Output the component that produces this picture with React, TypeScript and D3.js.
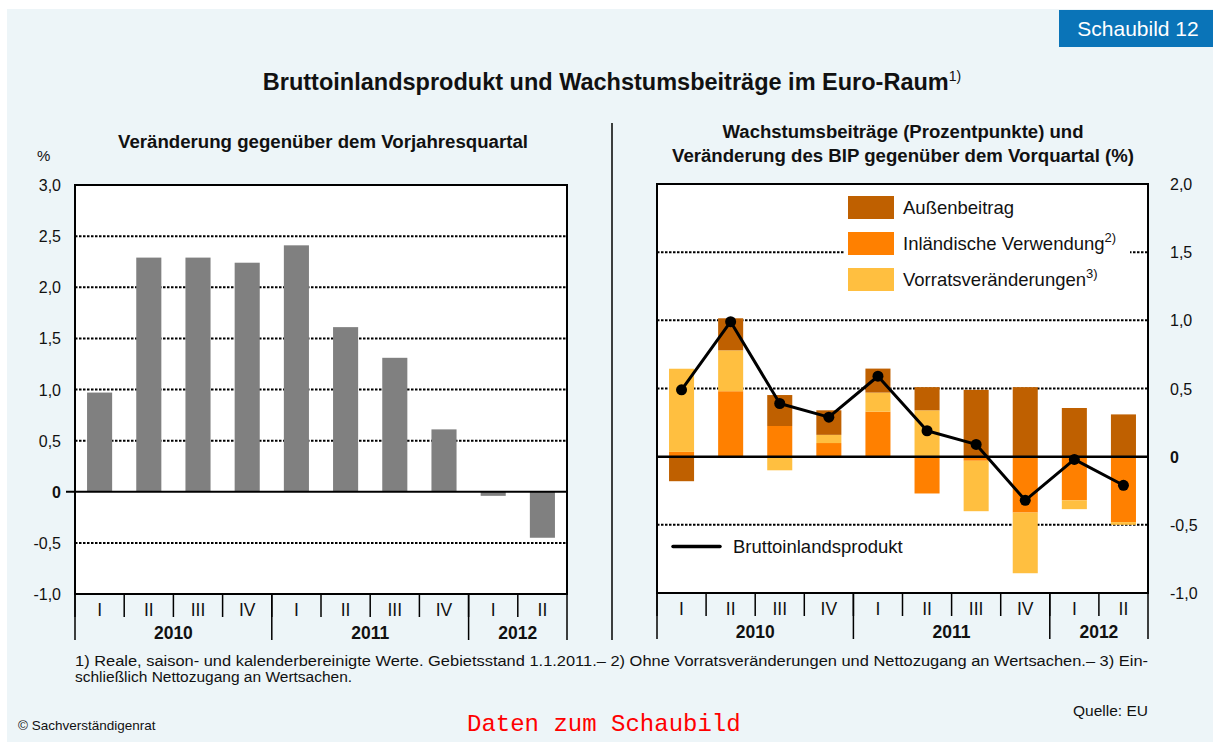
import React, { useEffect, useRef } from "react";
import * as d3 from "d3";

const quarters = ["I", "II", "III", "IV", "I", "II", "III", "IV", "I", "II"];
const yearLabels = ["2010", "2011", "2012"];
const yearSpans = [4, 4, 2];

// left panel: change vs. same quarter of previous year (%)
const yoyChange = [0.97, 2.29, 2.29, 2.24, 2.41, 1.61, 1.31, 0.61, -0.04, -0.45];

// right panel: growth contributions (pp) and GDP vs. previous quarter (%)
const inland = [0.035, 0.48, 0.225, 0.1, 0.33, -0.27, -0.03, -0.41, -0.32, -0.48];
const vorrat = [0.61, 0.3, -0.1, 0.06, 0.14, 0.34, -0.37, -0.445, -0.065, -0.02];
const aussen = [-0.18, 0.235, 0.227, 0.18, 0.176, 0.17, 0.49, 0.51, 0.357, 0.31];
const bip = [0.49, 0.99, 0.39, 0.29, 0.59, 0.19, 0.09, -0.32, -0.02, -0.21];

const leftTicks = [3, 2.5, 2, 1.5, 1, 0.5, 0, -0.5, -1];
const rightTicks = [2, 1.5, 1, 0.5, 0, -0.5, -1];

const FONT = "'Liberation Sans', Arial, sans-serif";

function fmt(v) {
  if (v === 0) return "0";
  return d3.format(".1f")(v).replace(".", ",").replace("−", "-");
}

function Chart() {
  const svgRef = useRef();
  useEffect(() => {
    document.body.style.margin = "0";
    const width = 1213;
    const height = 742;
    const svg = d3.select(svgRef.current).attr("width", width).attr("height", height);
    svg.selectAll("*").remove();

    svg.append("rect").attr("x", 7).attr("y", 9).attr("width", width - 7).attr("height", height - 9).attr("fill", "#edf5f8");

    // badge
    svg.append("rect").attr("x", 1059).attr("y", 10).attr("width", 154).attr("height", 37).attr("fill", "#0a74b8");
    svg.append("text").attr("x", 1138).attr("y", 36).attr("text-anchor", "middle").attr("fill", "#fff")
      .style("font-family", FONT).style("font-size", "21px").text("Schaubild 12");

    // main title
    const title = svg.append("text").attr("x", 612).attr("y", 90).attr("text-anchor", "middle")
      .style("font-family", FONT).style("font-size", "23.5px").style("font-weight", "bold").attr("fill", "#111");
    title.append("tspan").text("Bruttoinlandsprodukt und Wachstumsbeiträge im Euro-Raum");
    title.append("tspan").attr("dy", -9).style("font-size", "14px").style("font-weight", "normal").text("1)");

    // divider
    svg.append("line").attr("x1", 612).attr("x2", 612).attr("y1", 123).attr("y2", 640).attr("stroke", "#000").attr("stroke-width", 1.5);

    const labelStyle = (sel, size = 14) => sel.style("font-family", FONT).style("font-size", size + "px").attr("fill", "#111");

    function drawXAxis(x0, x1, y0) {
      const g = svg.append("g");
      const step = (x1 - x0) / quarters.length;
      quarters.forEach((q, i) => {
        g.append("line").attr("x1", x0 + i * step).attr("x2", x0 + i * step).attr("y1", y0).attr("y2", y0 + 23)
          .attr("stroke", "#000").attr("stroke-width", 1.5);
        g.append("text").attr("x", x0 + (i + 0.5) * step).attr("y", y0 + 22).attr("text-anchor", "middle")
          .call(labelStyle, 17.5).text(q);
      });
      let k = 0;
      yearLabels.forEach((yl, j) => {
        const a = x0 + k * step;
        const b = x0 + (k + yearSpans[j]) * step;
        g.append("line").attr("x1", a).attr("x2", a).attr("y1", y0).attr("y2", y0 + 46).attr("stroke", "#000").attr("stroke-width", 1.5);
        g.append("text").attr("x", (a + b) / 2).attr("y", y0 + 45).attr("text-anchor", "middle")
          .call(labelStyle, 17.5).style("font-weight", "bold").text(yl);
        k += yearSpans[j];
      });
      g.append("line").attr("x1", x1).attr("x2", x1).attr("y1", y0).attr("y2", y0 + 46).attr("stroke", "#000").attr("stroke-width", 1.5);
    }

    function gridLines(g, ticks, y, x0, x1) {
      g.selectAll("line.grid").data(ticks.filter((t) => t !== 0)).join("line")
        .attr("class", "grid").attr("x1", x0).attr("x2", x1).attr("y1", (d) => y(d)).attr("y2", (d) => y(d))
        .attr("stroke", "#000").attr("stroke-width", 2).attr("stroke-dasharray", "2.5,1.5");
    }

    // ---------- left panel ----------
    const L = { left: 75, right: 567, top: 185, bottom: 594 };
    const xL = d3.scaleBand().domain(d3.range(quarters.length)).range([L.left, L.right]).paddingInner(0.49).paddingOuter(0.245);
    const yL = d3.scaleLinear().domain([-1, 3]).range([L.bottom, L.top]);

    svg.append("rect").attr("x", L.left).attr("y", L.top).attr("width", L.right - L.left).attr("height", L.bottom - L.top).attr("fill", "#fff");
    const gl = svg.append("g");
    gridLines(gl, leftTicks, yL, L.left, L.right);

    gl.selectAll("rect.bar").data(yoyChange).join("rect").attr("class", "bar")
      .attr("x", (d, i) => xL(i)).attr("width", xL.bandwidth())
      .attr("y", (d) => yL(Math.max(0, d))).attr("height", (d) => Math.abs(yL(d) - yL(0)))
      .attr("fill", "#808080");

    gl.append("line").attr("x1", 66).attr("x2", L.right).attr("y1", yL(0)).attr("y2", yL(0)).attr("stroke", "#000").attr("stroke-width", 2);
    svg.append("rect").attr("x", L.left).attr("y", L.top).attr("width", L.right - L.left).attr("height", L.bottom - L.top)
      .attr("fill", "none").attr("stroke", "#000").attr("stroke-width", 2);

    leftTicks.forEach((t) => {
      svg.append("text").attr("x", 61).attr("y", yL(t) + 6).attr("text-anchor", "end")
        .call(labelStyle, 16).style("font-weight", t === 0 ? "bold" : "normal").text(fmt(t));
    });
    svg.append("text").attr("x", 37).attr("y", 161).call(labelStyle, 15).text("%");
    svg.append("text").attr("x", 323).attr("y", 148).attr("text-anchor", "middle").call(labelStyle, 17.5).style("font-weight", "bold")
      .attr("textLength", 410).attr("lengthAdjust", "spacingAndGlyphs")
      .text("Veränderung gegenüber dem Vorjahresquartal");
    drawXAxis(L.left, L.right, L.bottom);

    // ---------- right panel ----------
    const R = { left: 657, right: 1148, top: 184, bottom: 593 };
    const xR = d3.scaleBand().domain(d3.range(quarters.length)).range([R.left, R.right]).paddingInner(0.49).paddingOuter(0.245);
    const yR = d3.scaleLinear().domain([-1, 2]).range([R.bottom, R.top]);

    svg.append("rect").attr("x", R.left).attr("y", R.top).attr("width", R.right - R.left).attr("height", R.bottom - R.top).attr("fill", "#fff");
    const gr = svg.append("g");
    gridLines(gr, rightTicks, yR, R.left, R.right);

    const keys = ["inland", "vorrat", "aussen"];
    const colors = { inland: "#ff8000", vorrat: "#ffbf40", aussen: "#bf6000" };
    const table = quarters.map((q, i) => ({ inland: inland[i], vorrat: vorrat[i], aussen: aussen[i] }));
    const series = d3.stack().keys(keys).offset(d3.stackOffsetDiverging)(table);

    gr.selectAll("g.series").data(series).join("g").attr("class", "series").attr("fill", (s) => colors[s.key])
      .selectAll("rect").data((s) => s).join("rect")
      .attr("x", (d, i) => xR(i)).attr("width", xR.bandwidth())
      .attr("y", (d) => yR(Math.max(d[0], d[1]))).attr("height", (d) => Math.abs(yR(d[0]) - yR(d[1])));

    gr.append("line").attr("x1", R.left).attr("x2", R.right).attr("y1", yR(0)).attr("y2", yR(0)).attr("stroke", "#000").attr("stroke-width", 2.5);

    const line = d3.line().x((d, i) => xR(i) + xR.bandwidth() / 2).y((d) => yR(d));
    gr.append("path").datum(bip).attr("d", line).attr("fill", "none").attr("stroke", "#000").attr("stroke-width", 3).attr("stroke-linejoin", "round");
    gr.selectAll("circle").data(bip).join("circle").attr("cx", (d, i) => xR(i) + xR.bandwidth() / 2).attr("cy", (d) => yR(d)).attr("r", 5.5).attr("fill", "#000");

    svg.append("rect").attr("x", R.left).attr("y", R.top).attr("width", R.right - R.left).attr("height", R.bottom - R.top)
      .attr("fill", "none").attr("stroke", "#000").attr("stroke-width", 2);

    rightTicks.forEach((t) => {
      svg.append("text").attr("x", 1170).attr("y", yR(t) + 6).call(labelStyle, 16)
        .style("font-weight", t === 0 ? "bold" : "normal").text(fmt(t));
    });

    const sub = svg.append("text").attr("text-anchor", "middle").call(labelStyle, 17.5).style("font-weight", "bold");
    sub.append("tspan").attr("x", 903).attr("y", 138).attr("textLength", 361).attr("lengthAdjust", "spacingAndGlyphs")
      .text("Wachstumsbeiträge (Prozentpunkte) und");
    sub.append("tspan").attr("x", 903).attr("y", 162).attr("textLength", 462).attr("lengthAdjust", "spacingAndGlyphs")
      .text("Veränderung des BIP gegenüber dem Vorquartal (%)");

    // legend
    const legendItems = [
      { key: "aussen", label: "Außenbeitrag", sup: "" },
      { key: "inland", label: "Inländische Verwendung", sup: "2)" },
      { key: "vorrat", label: "Vorratsveränderungen", sup: "3)" },
    ];
    svg.append("rect").attr("x", 845).attr("y", 192).attr("width", 285).attr("height", 104).attr("fill", "#fff");
    const lg = svg.append("g").attr("transform", "translate(848,196)");
    legendItems.forEach((it, i) => {
      lg.append("rect").attr("x", 0).attr("y", i * 36).attr("width", 46).attr("height", 23).attr("fill", colors[it.key]);
      const tx = lg.append("text").attr("x", 55).attr("y", i * 36 + 18).call(labelStyle, 18.5);
      tx.append("tspan").text(it.label);
      if (it.sup) tx.append("tspan").attr("dy", -8).style("font-size", "13px").text(it.sup);
    });
    svg.append("line").attr("x1", 673).attr("x2", 720).attr("y1", 546.5).attr("y2", 546.5).attr("stroke", "#000").attr("stroke-width", 3.5).attr("stroke-linecap", "round");
    svg.append("text").attr("x", 733).attr("y", 553).call(labelStyle, 18.5).text("Bruttoinlandsprodukt");

    drawXAxis(R.left, R.right, R.bottom);

    // footnotes
    svg.append("text").attr("x", 75).attr("y", 666).call(labelStyle, 15.5).attr("textLength", 1073).attr("lengthAdjust", "spacingAndGlyphs")
      .text("1) Reale, saison- und kalenderbereinigte Werte. Gebietsstand 1.1.2011.– 2) Ohne Vorratsveränderungen und Nettozugang an Wertsachen.– 3) Ein-");
    svg.append("text").attr("x", 75).attr("y", 682).call(labelStyle, 15.5).text("schließlich Nettozugang an Wertsachen.");
    svg.append("text").attr("x", 1148).attr("y", 716).attr("text-anchor", "end").call(labelStyle, 15.5).text("Quelle: EU");
    svg.append("text").attr("x", 18).attr("y", 730).call(labelStyle, 13.5).text("© Sachverständigenrat");
    svg.append("text").attr("x", 467).attr("y", 731).attr("fill", "#f00").style("font-family", "'Liberation Mono', 'Courier New', monospace")
      .style("font-size", "24px").text("Daten zum Schaubild");
  }, []);

  return <svg ref={svgRef} style={{ display: "block" }}></svg>;
}

export default function App() {
  return <Chart />;
}
